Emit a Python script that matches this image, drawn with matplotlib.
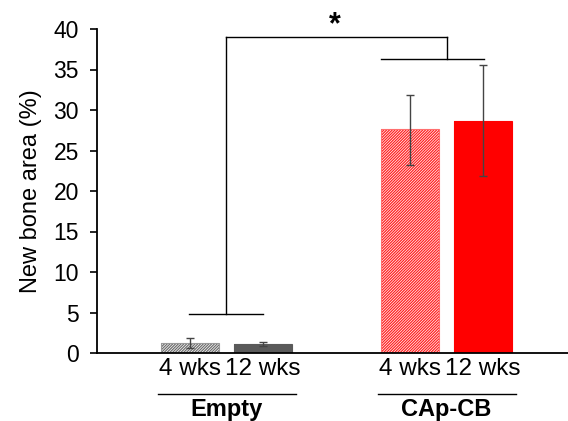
import matplotlib
matplotlib.use("Agg")
import matplotlib.pyplot as plt
import matplotlib as mpl

plt.rcParams['font.family'] = ['Liberation Sans', 'DejaVu Sans']
mpl.rcParams['hatch.linewidth'] = 0.9

groups = ["Empty", "CAp-CB"]
timepoints = ["4 wks", "12 wks"]
means = [1.2, 1.1, 27.6, 28.7]
err_low = [0.6, 0.9, 23.2, 21.8]
err_high = [1.8, 1.4, 31.8, 35.5]

fig = plt.figure(figsize=(5.68, 4.21), dpi=100)
ax = fig.add_axes([97/568, 68/421, 471/568, 324/421])

pos = [0.93, 1.66, 3.13, 3.86]
width = 0.58
faces = ["white", "#5a5a5a", "white", "#ff0000"]
hcols = ["#6e6e6e", "#5a5a5a", "#ff2020", "#ff0000"]
edges = ["#9a9a9a", "#5a5a5a", "#ff7070", "#ff0000"]
hatches = ["////////////", None, "////////////", None]
for p, m, f, hc, e, h in zip(pos, means, faces, hcols, edges, hatches):
    ax.bar(p, m, width=width, color=f, edgecolor=hc, hatch=h, linewidth=0)
    ax.bar(p, m, width=width, fill=False, edgecolor=e, linewidth=0.8)
yerr = [[m - l for m, l in zip(means, err_low)], [h - m for m, h in zip(means, err_high)]]
ax.errorbar(pos, means, yerr=yerr, fmt='none', ecolor='#444444', elinewidth=1.0, capsize=3, capthick=1.0)

ax.set_xlim(0, 4.71)
ax.set_ylim(0, 40)
ax.set_yticks(range(0, 41, 5))
ax.tick_params(axis='y', labelsize=16.5, length=5, width=1.2, direction='out', pad=8)
ax.set_xticks([])
ax.spines['top'].set_visible(False)
ax.spines['right'].set_visible(False)
ax.spines['left'].set_linewidth(1.3)
ax.spines['bottom'].set_linewidth(1.3)
ax.set_ylabel("New bone area (%)", fontsize=17, labelpad=8)

# significance bracket
lc = 'black'
ax.plot([0.92, 1.66], [4.8, 4.8], color=lc, lw=1)
ax.plot([1.29, 1.29], [4.8, 39.0], color=lc, lw=1)
ax.plot([1.29, 3.50], [39.0, 39.0], color=lc, lw=1)
ax.plot([3.50, 3.50], [39.0, 36.3], color=lc, lw=1)
ax.plot([2.84, 3.87], [36.3, 36.3], color=lc, lw=1)
ax.text(2.38, 39.5, "*", fontsize=22, fontweight='bold', ha='center', va='baseline', clip_on=False)

# x labels
for p, t in zip(pos, timepoints * 2):
    ax.text(p, -0.6, t, fontsize=17.5, ha='center', va='top', clip_on=False)
for gi, g in enumerate(groups):
    c = (pos[2*gi] + pos[2*gi+1]) / 2
    ax.plot([c - 0.69, c + 0.69], [-5.0, -5.0], color='black', lw=1, clip_on=False)
    ax.text(c, -5.5, g, fontsize=17, fontweight='bold', ha='center', va='top', clip_on=False)

fig.savefig("out.png", dpi=100)
